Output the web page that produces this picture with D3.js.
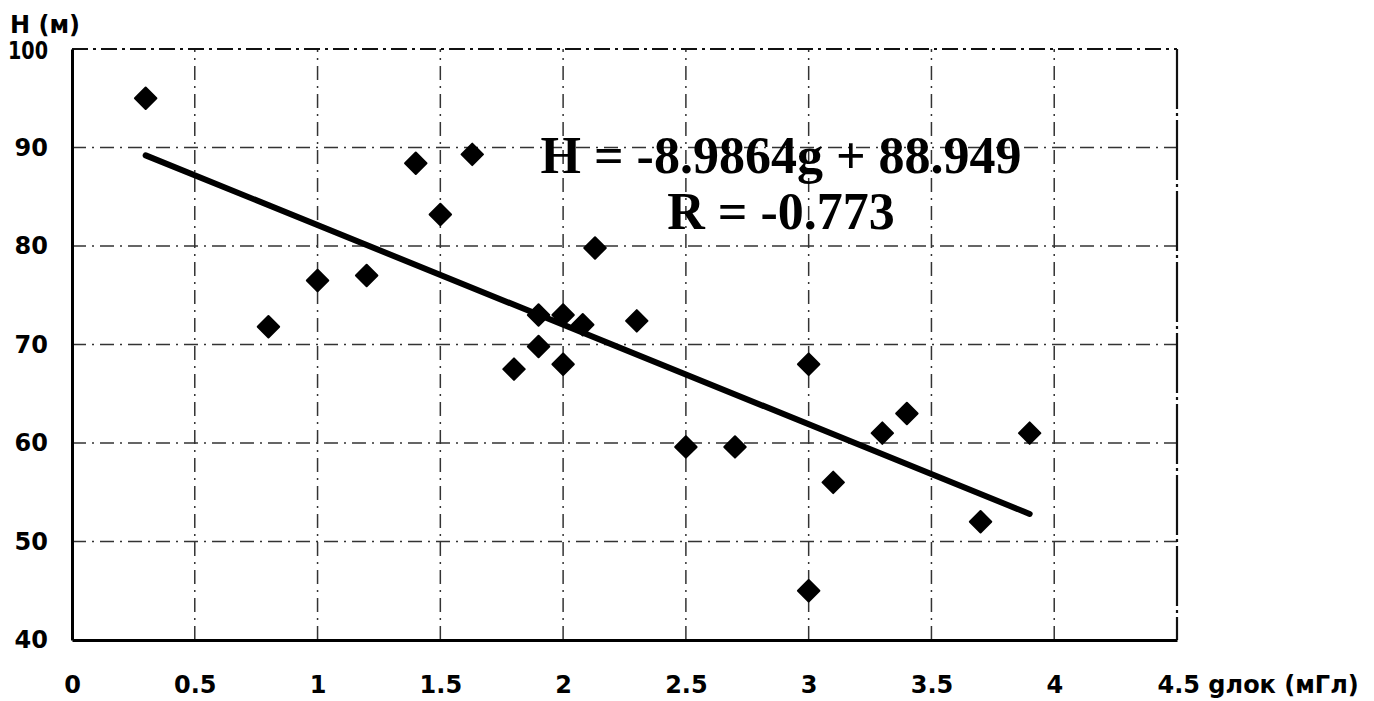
<!DOCTYPE html>
<html>
<head>
<meta charset="utf-8">
<script src="https://cdn.jsdelivr.net/npm/d3@7"></script>
<style>
body { margin: 0; background: #fff; }
svg { display: block; }
</style>
</head>
<body>
<div id="chart"></div>
<script>
// g (мГл) and H (м)
var gVals = [0.3, 0.8, 1.0, 1.2, 1.4, 1.5, 1.63, 1.8, 1.9, 1.9, 2.0, 2.0, 2.08, 2.13, 2.3, 2.5, 2.7, 3.0, 3.0, 3.1, 3.3, 3.4, 3.7, 3.9];
var hVals = [95, 71.8, 76.5, 77, 88.4, 83.2, 89.3, 67.5, 73, 69.8, 73, 68, 72, 79.8, 72.4, 59.6, 59.6, 68, 45, 56, 61, 63, 52, 61];
// trend line end points as drawn
var trendG = [0.3, 3.9];
var trendH = [89.2, 52.8];
var xTicks = [0, 0.5, 1, 1.5, 2, 2.5, 3, 3.5, 4, 4.5];
var yTicks = [40, 50, 60, 70, 80, 90, 100];
var eqLines = ["H = -8.9864g + 88.949", "R = -0.773"];

var W = 1374, H = 701;
var svg = d3.select("#chart").append("svg").attr("width", W).attr("height", H);

var x = d3.scaleLinear().domain([0, 4.5]).range([72, 1177]);
var y = d3.scaleLinear().domain([40, 100]).range([640, 49]);

var labelFont = "'DejaVu Sans', Verdana, sans-serif";

var gridStyle = function(sel) {
    sel.attr("stroke", "#333").attr("stroke-width", 1.5).attr("stroke-dasharray", "14,6,2,6");
};

// grid
svg.append("g").selectAll("line").data(yTicks.slice(1, -1)).enter().append("line")
    .attr("x1", x(0)).attr("x2", x(4.5))
    .attr("y1", function(d) { return y(d); }).attr("y2", function(d) { return y(d); })
    .call(gridStyle);
svg.append("g").selectAll("line").data(xTicks.slice(1, -1)).enter().append("line")
    .attr("y1", y(40)).attr("y2", y(100))
    .attr("x1", function(d) { return x(d); }).attr("x2", function(d) { return x(d); })
    .call(gridStyle);

// frame
svg.append("line").attr("x1", x(0)).attr("x2", x(4.5)).attr("y1", y(100)).attr("y2", y(100))
    .attr("stroke", "#111").attr("stroke-width", 2).attr("stroke-dasharray", "16,5,3,5");
svg.append("line").attr("x1", x(4.5)).attr("x2", x(4.5)).attr("y1", y(100)).attr("y2", y(40))
    .attr("stroke", "#111").attr("stroke-width", 2.2).attr("stroke-dasharray", "60,4,3,4");

var xAxis = svg.append("g").attr("transform", "translate(0," + y(40) + ")")
    .call(d3.axisBottom(x).tickValues(xTicks).tickSize(0).tickPadding(36)
        .tickFormat(function(d) { return d === 4.5 ? "4.5 gлок (мГл)" : d; }));
var yAxis = svg.append("g").attr("transform", "translate(" + x(0) + ",0)")
    .call(d3.axisLeft(y).tickValues(yTicks).tickSize(0).tickPadding(24));

[xAxis, yAxis].forEach(function(a) {
    a.select(".domain").attr("stroke", "#000").attr("stroke-width", 3);
    a.selectAll("text").attr("fill", "#000")
        .style("font-family", labelFont)
        .style("font-size", "24px").style("font-weight", "bold");
});
xAxis.selectAll(".tick").filter(function(d) { return d === 4.5; }).select("text")
    .attr("text-anchor", "start").attr("dx", "-20");
yAxis.selectAll(".tick").filter(function(d) { return d === 100; }).select("text")
    .attr("dx", "0").attr("dy", "0.4em").attr("textLength", 40).attr("lengthAdjust", "spacingAndGlyphs");

svg.append("text").attr("x", 10).attr("y", 33).text("H (м)")
    .style("font-family", labelFont)
    .style("font-size", "24px").style("font-weight", "bold");

// trend line
svg.append("line")
    .attr("x1", x(trendG[0])).attr("y1", y(trendH[0]))
    .attr("x2", x(trendG[1])).attr("y2", y(trendH[1]))
    .attr("stroke", "#000").attr("stroke-width", 6).attr("stroke-linecap", "round");

// points
var diamond = d3.symbol().type(d3.symbolSquare).size(230);
svg.append("g").selectAll("path").data(gVals).enter().append("path")
    .attr("d", diamond)
    .attr("transform", function(d, i) { return "translate(" + x(d) + "," + y(hVals[i]) + ") rotate(45)"; })
    .attr("fill", "#000").attr("stroke", "#000").attr("stroke-width", 2).attr("stroke-linejoin", "round");

// equation
svg.append("g").selectAll("text").data(eqLines).enter().append("text")
    .attr("x", 781).attr("y", function(d, i) { return 173 + i * 56; })
    .attr("text-anchor", "middle")
    .style("font-family", "'Liberation Serif', 'Times New Roman', serif")
    .style("font-size", "52px").style("font-weight", "bold")
    .text(function(d) { return d; });
</script>
</body>
</html>
